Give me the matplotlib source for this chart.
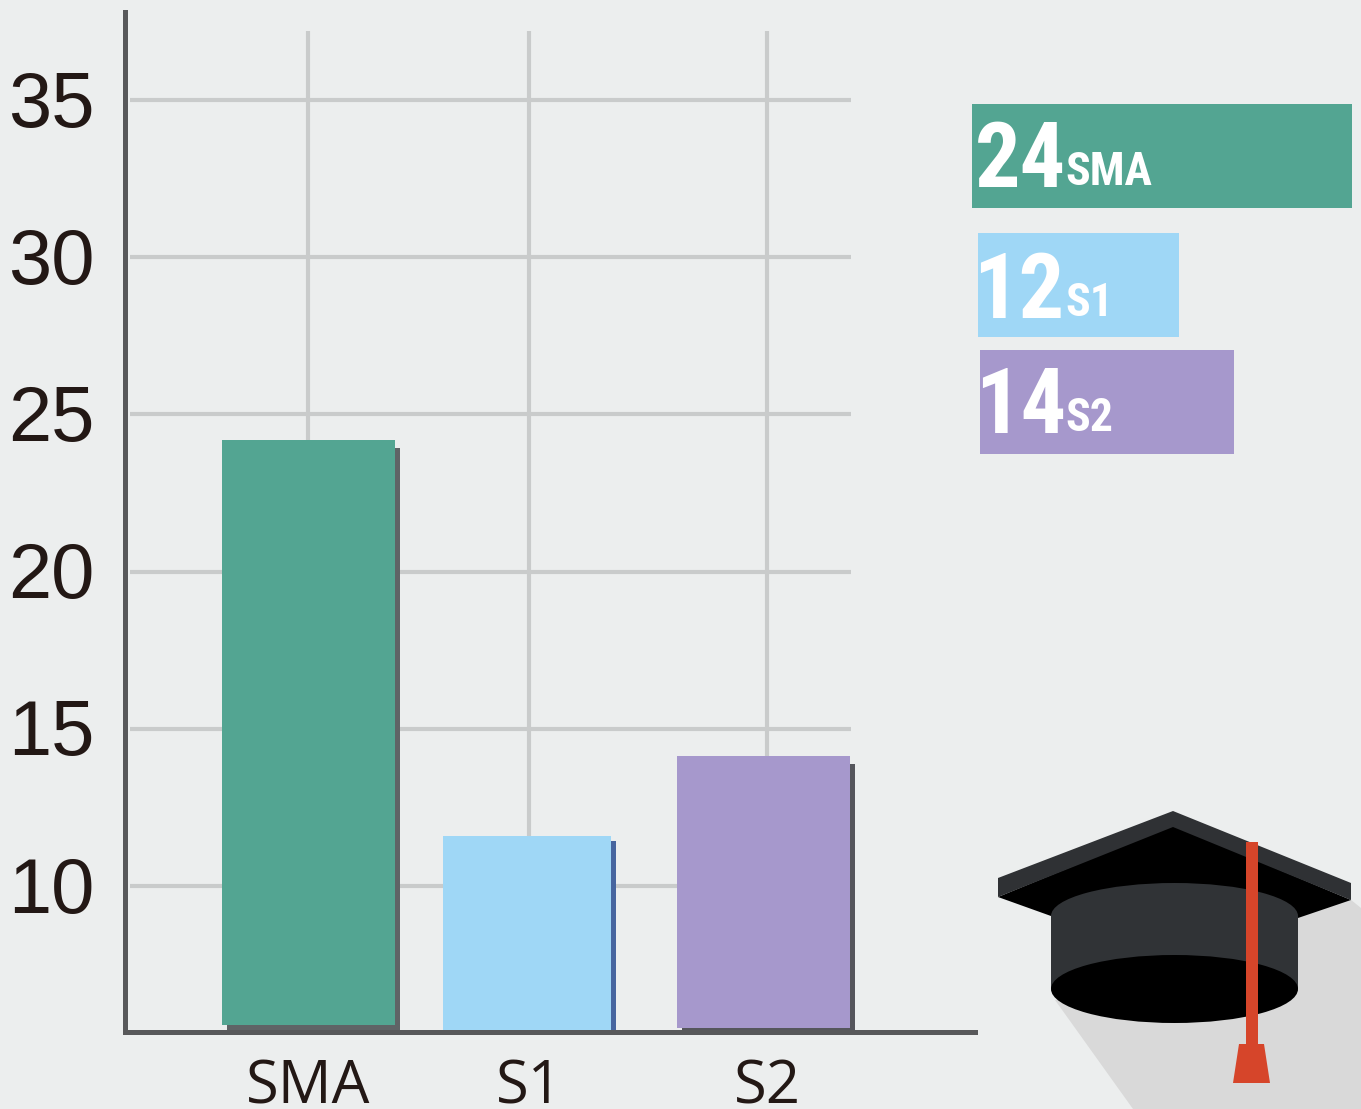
import matplotlib
matplotlib.use("Agg")
import logging
import matplotlib.pyplot as plt
from matplotlib.patches import Ellipse, Polygon
from matplotlib.transforms import ScaledTranslation

logging.getLogger("matplotlib.font_manager").setLevel(logging.ERROR)

W, H = 1361, 1109

categories = ["SMA", "S1", "S2"]
values = [24.2, 11.6, 14.15]
bar_bottoms = [5.58, 5.42, 5.5]
y_ticks = [10, 15, 20, 25, 30, 35]

panel_numbers = ["24", "12", "14"]
panel_lengths = [380, 201, 254]

tick_pos = [308, 529, 767]
bar_left = [222, 443, 677]
bar_width = [173, 168, 173]
shadow_drop = [0.26, 0.16, 0.26]
panel_left = [972, 978, 980]
panel_center = [155.5, 285, 401.5]
panel_base = [187, 318, 433]
number_x = [975, 973, 975]

BG = "#eceeee"
bar_colors = ["#53a592", "#9fd7f6", "#a698cc"]
shadow_colors = ["#5f6366", "#47659f", "#55565c"]
GRID = "#c9cbcb"
SPINE = "#58585a"
INK = "#231815"
RED = "#d6452a"
NARROW = ["Roboto Condensed", "Barlow Condensed", "Liberation Sans"]

fig = plt.figure(figsize=(W / 100, H / 100), dpi=100, facecolor=BG)

# main chart, x axis in picture pixels since the categories are unevenly spaced
ax = fig.add_axes([125 / W, 1 - 1032 / H, 850 / W, 1020 / H], facecolor="none")
ax.set_xlim(125, 975)
ax.set_ylim(5.36, 37.8)

ax.hlines(y_ticks, 130, 851, color=GRID, lw=3, zorder=1)
ax.vlines(tick_pos, 5.36, 37.2, color=GRID, lw=3, zorder=1)

for i in range(len(categories)):
    ax.bar(bar_left[i] + 5, values[i] - shadow_drop[i] - 5.36, bar_width[i], bottom=5.36,
           align="edge", color=shadow_colors[i], zorder=2)
    ax.bar(bar_left[i], values[i] - bar_bottoms[i], bar_width[i], bottom=bar_bottoms[i],
           align="edge", color=bar_colors[i], zorder=3)

for side in ["top", "right"]:
    ax.spines[side].set_visible(False)
for side in ["left", "bottom"]:
    ax.spines[side].set_color(SPINE)
    ax.spines[side].set_linewidth(3.6)
    ax.spines[side].set_zorder(4)

ax.set_yticks(y_ticks)
ax.set_yticklabels(y_ticks, fontsize=56, color=INK, family="Liberation Sans")
ax.tick_params(axis="y", length=0, pad=22)
lift = ScaledTranslation(0, 2 / 100, fig.dpi_scale_trans)
for label in ax.get_yticklabels():
    label.set_transform(label.get_transform() + lift)
ax.set_xticks(tick_pos)
ax.set_xticklabels(categories, fontsize=43, color=INK, family="Open Sans")
ax.tick_params(axis="x", length=0, pad=18)

# legend-like panel on the right
panel = fig.add_axes([960 / W, 1 - 470 / H, 401 / W, 380 / H], facecolor="none")
panel.set_xlim(960, 1361)
panel.set_ylim(470, 90)
panel.axis("off")
panel.barh(panel_center, panel_lengths, height=104, left=panel_left, color=bar_colors)
for i in range(len(categories)):
    panel.text(number_x[i], panel_base[i], panel_numbers[i], color="white",
               fontsize=65, fontweight="bold", family=NARROW, va="baseline", ha="left")
    panel.text(1065, panel_base[i] - 2, categories[i], color="white", fontsize=33, fontweight="bold",
               family=NARROW, va="baseline", ha="left")

# graduation cap, drawn in picture pixels
cap = fig.add_axes([0, 0, 1, 1], facecolor="none")
cap.set_xlim(0, W)
cap.set_ylim(H, 0)
cap.axis("off")
cap.add_patch(Polygon([(1055, 1000), (1133, 1109), (1361, 1109), (1361, 908), (1345, 895)],
                      color="#d9d9d9", lw=0))
cap.add_patch(Polygon([(998, 897), (1173, 825), (1351, 900), (1298, 918), (1051, 916)], color="black", lw=0))
cap.add_patch(Polygon([(1173, 811), (1351, 883), (1351, 900), (1173, 827), (998, 897), (998, 878)],
                      color="#2f3134", lw=0))
cap.add_patch(Ellipse((1174.5, 916), 247, 66, color="#303336", lw=0))
cap.add_patch(Polygon([(1051, 916), (1298, 916), (1298, 989), (1051, 989)], color="#303336", lw=0))
cap.add_patch(Ellipse((1174.5, 989), 247, 68, color="black", lw=0))
cap.add_patch(Polygon([(1246, 842), (1258, 842), (1258, 1046), (1246, 1046)], color=RED, lw=0))
cap.add_patch(Polygon([(1239, 1044), (1264, 1044), (1270, 1083), (1233, 1083)], color=RED, lw=0))

fig.savefig("out.png", dpi=100, facecolor=BG)
